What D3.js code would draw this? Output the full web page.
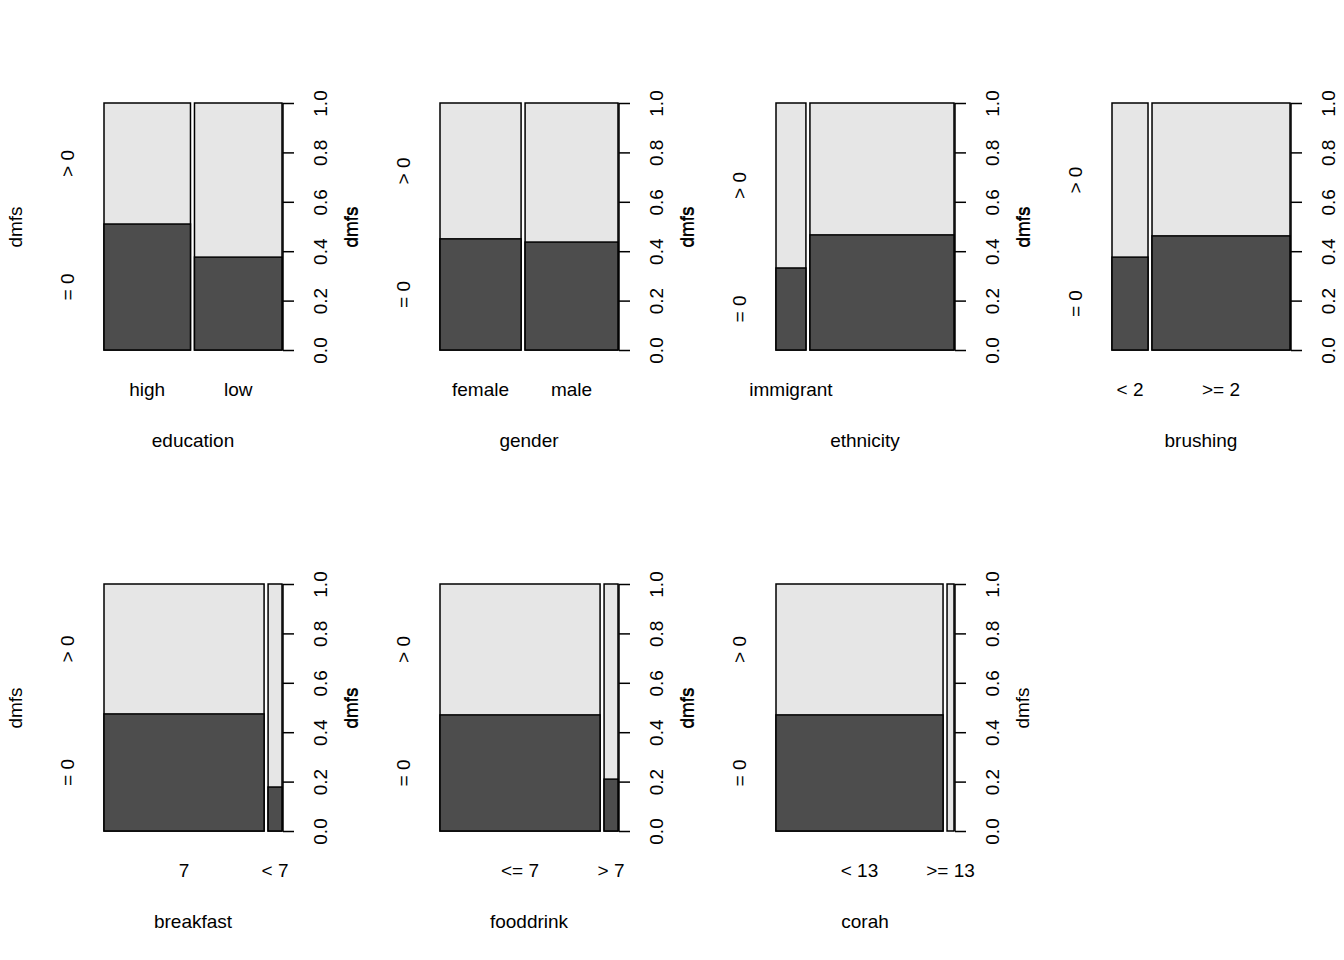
<!DOCTYPE html>
<html><head><meta charset="utf-8">
<script src="https://cdn.jsdelivr.net/npm/d3@7"></script>
<style>body{margin:0;background:#fff}text{font-family:"Liberation Sans",Arial,sans-serif;font-size:19px;fill:#000}</style>
</head><body>
<script>
// variable names, categories, bar widths (share) and share of dmfs = 0
var variables = ["education", "gender", "ethnicity", "brushing", "breakfast", "fooddrink", "corah"];
var categories = [["high", "low"], ["female", "male"], ["immigrant", ""], ["< 2", ">= 2"], ["7", "< 7"], ["<= 7", "> 7"], ["< 13", ">= 13"]];
var shares = [[0.497, 0.503], [0.466, 0.534], [0.172, 0.828], [0.207, 0.793], [0.92, 0.08], [0.92, 0.08], [0.96, 0.04]];
var zeroShare = [[0.51, 0.376], [0.45, 0.437], [0.332, 0.466], [0.376, 0.462], [0.474, 0.178], [0.47, 0.21], [0.47, 0]];
var yTicks = [0, 0.2, 0.4, 0.6, 0.8, 1.0];

var svg = d3.select("body").append("svg").attr("width", 1344).attr("height", 960);

variables.forEach(function(name, i) {
	var ox = (i % 4) * 336, oy = Math.floor(i / 4) * 481;
	var g = svg.append("g").attr("transform", "translate(" + ox + "," + oy + ")");
	var left = 104, right = 282, top = 103, bottom = 350, gap = 4;
	var y = d3.scaleLinear().domain([0, 1]).range([bottom, top]);
	var avail = right - left - gap * (shares[i].length - 1);
	var x0 = left;
	var bars = shares[i].map(function(s, j) {
		var b = {x: x0, w: s * avail, z: zeroShare[i][j], label: categories[i][j]};
		x0 += b.w + gap;
		return b;
	});

	bars.forEach(function(b) {
		g.append("rect").attr("x", b.x).attr("y", y(1)).attr("width", b.w).attr("height", y(0) - y(1))
			.attr("fill", "#e6e6e6").attr("stroke", "#000").attr("stroke-width", 1.5);
		if (b.z > 0) {
			g.append("rect").attr("x", b.x).attr("y", y(b.z)).attr("width", b.w).attr("height", y(0) - y(b.z))
				.attr("fill", "#4d4d4d").attr("stroke", "#000").attr("stroke-width", 1.5);
		}
		g.append("text").attr("x", b.x + b.w / 2).attr("y", 396).attr("text-anchor", "middle").text(b.label);
	});

	// right axis
	var ax = g.append("g").attr("transform", "translate(" + (right + 1) + ",0)")
		.call(d3.axisRight(y).tickValues(yTicks).tickSize(11).tickFormat(d3.format(".1f")));
	ax.select(".domain").attr("stroke-width", 1.5).attr("d", "M0," + y(0) + "V" + y(1));
	ax.selectAll(".tick line").attr("stroke-width", 1.5);
	ax.selectAll(".tick text").attr("font-size", null).attr("font-family", null)
		.attr("x", 0).attr("y", 0).attr("dy", null)
		.attr("text-anchor", "middle")
		.attr("transform", "translate(44,0) rotate(-90)");

	// left labels based on first bar
	var z = bars[0].z;
	g.append("text").attr("transform", "translate(74," + (y(z) + y(0)) / 2 + ") rotate(-90)").attr("text-anchor", "middle").text("= 0");
	g.append("text").attr("transform", "translate(74," + (y(1) + y(z)) / 2 + ") rotate(-90)").attr("text-anchor", "middle").text("> 0");
	g.append("text").attr("transform", "translate(22,227) rotate(-90)").attr("text-anchor", "middle").text("dmfs");
	g.append("text").attr("transform", "translate(357,227) rotate(-90)").attr("text-anchor", "middle").text("dmfs");
	g.append("text").attr("x", 193).attr("y", 447).attr("text-anchor", "middle").text(name);
});
</script>
</body></html>
